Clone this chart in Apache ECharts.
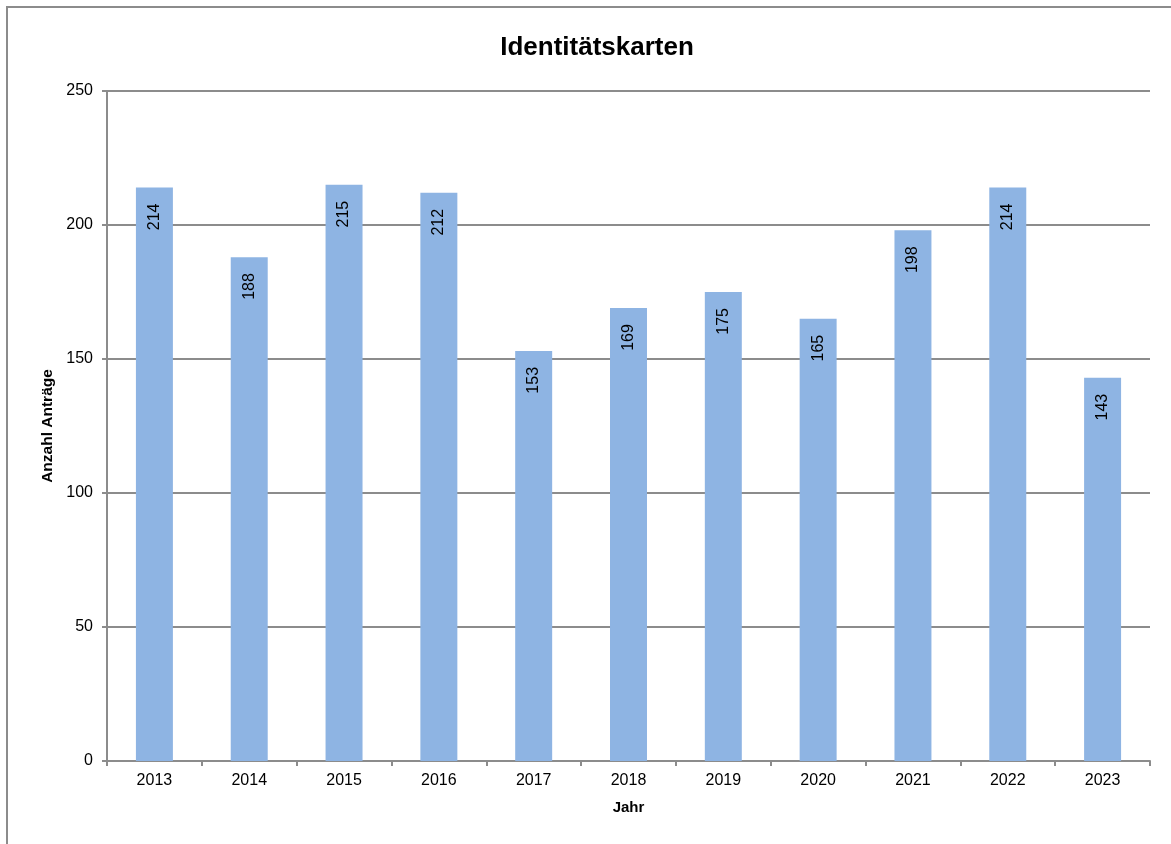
<!DOCTYPE html>
<html>
<head>
<meta charset="utf-8">
<script src="https://cdn.jsdelivr.net/npm/echarts@6/dist/echarts.min.js"></script>
<style>
  html, body { margin: 0; padding: 0; background: #fff; }
  #chart { width: 1171px; height: 844px; }
</style>
</head>
<body>
<div id="chart"></div>
<script>
  // Daten
  const years = ['2013', '2014', '2015', '2016', '2017', '2018', '2019', '2020', '2021', '2022', '2023']
  const antraege = [214, 188, 215, 212, 153, 169, 175, 165, 198, 214, 143]
  const yTicks = [0, 50, 100, 150, 200, 250]

  const font = 'Liberation Sans, Arial, sans-serif'
  const chart = echarts.init(document.getElementById('chart'), null, {renderer: 'canvas'})

  chart.setOption({
    animation: false,
    backgroundColor: '#fff',
    textStyle: {fontFamily: font},
    graphic: [{
      type: 'rect',
      shape: {x: 7, y: 7, width: 1300, height: 1000},
      style: {fill: 'none', stroke: '#8c8c8c', lineWidth: 2}
    }],
    title: {
      text: 'Identitätskarten',
      left: 592,
      top: 30,
      textAlign: 'center',
      textStyle: {fontFamily: font, fontSize: 26, fontWeight: 'bold', color: '#000'}
    },
    grid: {left: 107, right: 21, top: 91, bottom: 83, containLabel: false},
    xAxis: {
      type: 'category',
      data: years,
      name: 'Jahr',
      nameLocation: 'middle',
      nameGap: 39,
      nameTextStyle: {fontFamily: font, fontSize: 15, fontWeight: 'bold', color: '#000'},
      axisLine: {lineStyle: {color: '#8c8c8c', width: 2}},
      axisTick: {show: true, length: 5, lineStyle: {color: '#8c8c8c', width: 2}},
      axisLabel: {fontFamily: font, fontSize: 16, color: '#000', margin: 12}
    },
    yAxis: {
      type: 'value',
      min: yTicks[0],
      max: yTicks[yTicks.length - 1],
      interval: 50,
      name: 'Anzahl Anträge',
      nameLocation: 'middle',
      nameGap: 45,
      nameTextStyle: {fontFamily: font, fontSize: 15.5, fontWeight: 'bold', color: '#000'},
      axisLine: {show: true, lineStyle: {color: '#8c8c8c', width: 2}},
      axisTick: {show: true, length: 5, lineStyle: {color: '#8c8c8c', width: 2}},
      axisLabel: {fontFamily: font, fontSize: 16, color: '#000', margin: 14},
      splitLine: {lineStyle: {color: '#8c8c8c', width: 2}}
    },
    series: [{
      type: 'bar',
      data: antraege,
      barWidth: '39%',
      itemStyle: {color: '#8eb4e3'},
      label: {
        show: true,
        position: 'insideTop',
        distance: 16,
        rotate: 90,
        align: 'right',
        verticalAlign: 'middle',
        fontFamily: font,
        fontSize: 16,
        color: '#000'
      }
    }]
  })
</script>
</body>
</html>
